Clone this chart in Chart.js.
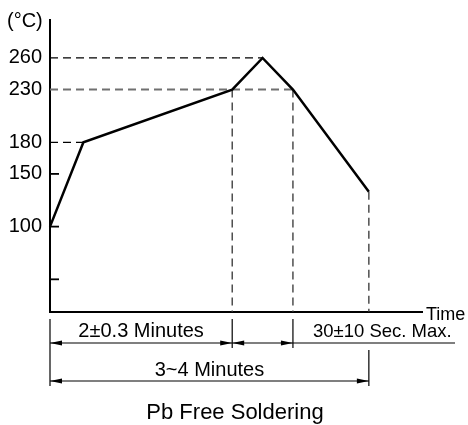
<!DOCTYPE html>
<html>
<head>
<meta charset="utf-8">
<script src="https://cdn.jsdelivr.net/npm/chart.js@4.4.1/dist/chart.umd.min.js"></script>
<style>
  html, body { margin: 0; padding: 0; background: #fff; }
  canvas { display: block; }
</style>
</head>
<body>
<canvas id="profile" width="468" height="425"></canvas>
<script>
'use strict';
// reflow profile, time in seconds, temperature in °C
const profileTimes = [0, 22, 120, 140, 160, 210];
const profileTemps = [100, 180, 230, 260, 230, 133];

const tempTicks = [50, 100, 150, 180, 230, 260];
const labelledTicks = [100, 150, 180, 230, 260];

// which profile points get a dashed guide to the axes
const hGuidePoints = [1, 4, 3];
const vGuidePoints = [2, 4, 5];

const spanTexts = ['2±0.3 Minutes', '30±10 Sec. Max.', '3~4 Minutes'];
const yUnit = '(°C)';
const xUnit = 'Time';
const chartTitle = 'Pb Free Soldering';

const FONT = "'Liberation Sans', Arial, sans-serif";
const tMin = 0, tMax = 245, yMin = 19, yMax = 296;

let profilePoints = [];
for (let i = 0; i < profileTimes.length; i++) {
  profilePoints.push({ x: profileTimes[i], y: profileTemps[i] });
}

let datasets = [{
  data: profilePoints,
  borderColor: '#000',
  borderWidth: 2.5,
  borderJoinStyle: 'miter',
  pointRadius: 0,
  tension: 0,
  clip: false,
  order: 0
}];

hGuidePoints.forEach(function (i) {
  let isGray = profileTemps[i] === 230;
  datasets.push({
    data: [{ x: tMin, y: profileTemps[i] }, { x: profileTimes[i], y: profileTemps[i] }],
    borderColor: isGray ? '#707070' : '#000',
    borderWidth: isGray ? 2 : 1.3,
    borderDash: [8, 5],
    pointRadius: 0,
    order: 1
  });
});
vGuidePoints.forEach(function (i) {
  datasets.push({
    data: [{ x: profileTimes[i], y: profileTemps[i] }, { x: profileTimes[i], y: yMin }],
    borderColor: '#333',
    borderWidth: 1.3,
    borderDash: [8, 5],
    pointRadius: 0,
    order: 1
  });
});

function arrowHead(ctx, x, y, dir) {
  ctx.beginPath();
  ctx.moveTo(x, y);
  ctx.lineTo(x - dir * 12, y - 2.5);
  ctx.lineTo(x - dir * 12, y + 2.5);
  ctx.closePath();
  ctx.fill();
}

function dimLine(ctx, x1, x2, y) {
  ctx.beginPath();
  ctx.moveTo(x1, y);
  ctx.lineTo(x2, y);
  ctx.stroke();
  arrowHead(ctx, x1, y, -1);
  arrowHead(ctx, x2, y, 1);
}

function vLine(ctx, x, y1, y2) {
  ctx.beginPath();
  ctx.moveTo(x, y1);
  ctx.lineTo(x, y2);
  ctx.stroke();
}

const annotations = {
  id: 'annotations',
  afterDraw(chart) {
    const ctx = chart.ctx;
    const xs = chart.scales.x;
    const ys = chart.scales.y;
    const left = chart.chartArea.left;
    const right = chart.chartArea.right;
    const bottom = chart.chartArea.bottom;
    ctx.save();
    ctx.strokeStyle = '#000';
    ctx.fillStyle = '#000';

    // inner tick marks where there is no dashed guide
    ctx.lineWidth = 1.8;
    tempTicks.forEach(function (v) {
      let isGuide = hGuidePoints.some(function (i) { return profileTemps[i] === v; });
      if (!isGuide) {
        let y = ys.getPixelForValue(v);
        ctx.beginPath();
        ctx.moveTo(left, y);
        ctx.lineTo(left + 9, y);
        ctx.stroke();
      }
    });

    // dimension lines under the axis
    const p0 = xs.getPixelForValue(profileTimes[0]);
    const p1 = xs.getPixelForValue(profileTimes[2]);
    const p2 = xs.getPixelForValue(profileTimes[4]);
    const p3 = xs.getPixelForValue(profileTimes[5]);
    ctx.lineWidth = 1.2;
    vLine(ctx, p0, bottom + 7, bottom + 74);
    vLine(ctx, p1, bottom + 7, bottom + 36);
    vLine(ctx, p2, bottom + 7, bottom + 36);
    vLine(ctx, p3, bottom + 38, bottom + 74);

    const row1 = bottom + 31;
    const row2 = bottom + 69;
    dimLine(ctx, p0, p1, row1);
    dimLine(ctx, p1, p2, row1);
    ctx.beginPath();
    ctx.moveTo(p2, row1);
    ctx.lineTo(455, row1);
    ctx.stroke();
    dimLine(ctx, p0, p3, row2);

    // texts
    ctx.textBaseline = 'alphabetic';
    ctx.font = '20px ' + FONT;
    ctx.textAlign = 'left';
    ctx.fillText(yUnit, 7, 27);
    ctx.textAlign = 'center';
    ctx.fillText(spanTexts[0], (p0 + p1) / 2, row1 - 6);
    ctx.fillText(spanTexts[2], (p0 + p3) / 2, row2 - 5);
    ctx.font = '18.5px ' + FONT;
    ctx.textAlign = 'left';
    ctx.fillText(spanTexts[1], p2 + 20, row1 - 6);
    ctx.font = '18px ' + FONT;
    ctx.fillText(xUnit, right + 4, bottom + 8);
    ctx.font = '22px ' + FONT;
    ctx.textAlign = 'center';
    ctx.fillText(chartTitle, 235, 419);
    ctx.restore();
  }
};

const config = {
  type: 'line',
  data: { datasets: datasets },
  options: {
    responsive: false,
    animation: false,
    devicePixelRatio: 1,
    layout: { padding: { top: 20, left: 0, right: 46, bottom: 113 } },
    plugins: {
      legend: { display: false },
      tooltip: { enabled: false }
    },
    scales: {
      x: {
        type: 'linear',
        min: tMin,
        max: tMax,
        grid: { display: false, drawTicks: false },
        ticks: { display: false },
        border: { display: true, color: '#000', width: 2 },
        afterFit: function (s) { s.height = 0; }
      },
      y: {
        type: 'linear',
        min: yMin,
        max: yMax,
        grid: { display: false, drawTicks: false },
        border: { display: true, color: '#000', width: 2 },
        afterBuildTicks: function (s) {
          s.ticks = tempTicks.map(function (v) { return { value: v }; });
        },
        afterFit: function (s) { s.width = 50; },
        ticks: {
          padding: 8,
          color: '#000',
          font: { family: FONT, size: 20 },
          callback: function (v) { return labelledTicks.includes(v) ? String(v) : ''; }
        }
      }
    }
  },
  plugins: [annotations]
};

const myChart = new Chart(document.getElementById('profile'), config);
</script>
</body>
</html>
